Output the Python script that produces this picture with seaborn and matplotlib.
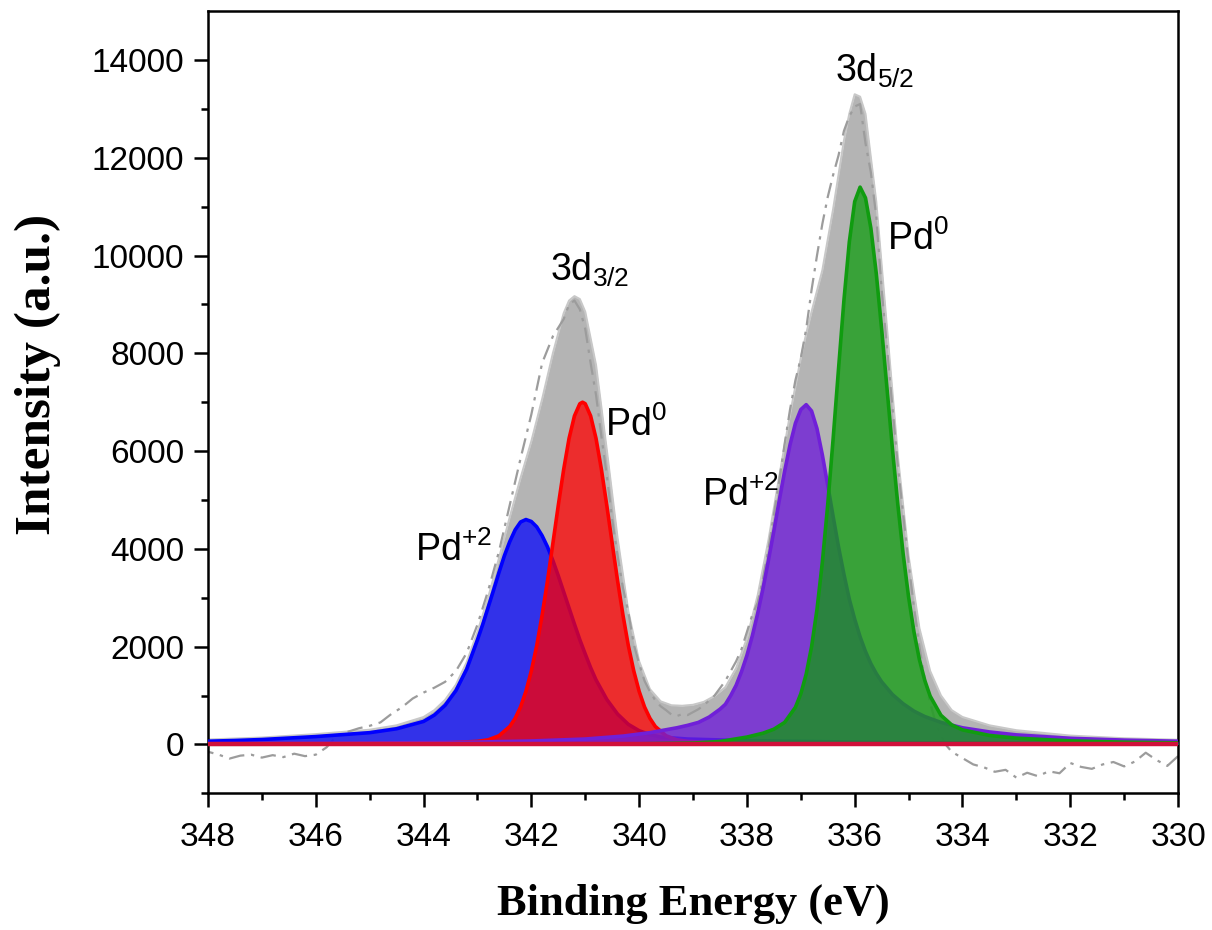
import numpy as np
import matplotlib
matplotlib.use("Agg")
import matplotlib.pyplot as plt
from matplotlib.ticker import FixedLocator
import seaborn as sns

# Pd 3d XPS spectrum (binding energy in eV, intensity in a.u.)

# raw spectrum (dash-dot)
raw_be = [348.0, 347.8, 347.6, 347.4, 347.2, 347.0, 346.8, 346.6, 346.4, 346.2, 346.0, 345.8,
          345.6, 345.4, 345.2, 345.0, 344.8, 344.6, 344.4, 344.2, 344.0,
          343.8, 343.6, 343.4, 343.2, 343.0,
          342.8, 342.6, 342.4, 342.2, 342.0, 341.8, 341.6, 341.4,
          341.3, 341.2, 341.1, 341.0, 340.9, 340.8, 340.7, 340.6, 340.5, 340.4,
          340.3, 340.2, 340.1, 340.0, 339.9, 339.8, 339.7, 339.6, 339.5, 339.4,
          339.3, 339.2, 339.1, 339.0, 338.9, 338.8, 338.7, 338.6, 338.5, 338.4,
          338.3, 338.2, 338.1, 338.0, 337.9, 337.8, 337.7, 337.6, 337.5, 337.4,
          337.3, 337.2, 337.1, 337.0, 336.9, 336.8, 336.7, 336.6, 336.5, 336.4,
          336.3, 336.2, 336.1, 336.0, 335.9, 335.8, 335.7, 335.6, 335.5, 335.4,
          335.3, 335.2, 335.1, 335.0, 334.9, 334.8, 334.7, 334.6, 334.5, 334.4,
          334.3, 334.2,
          334.0, 333.8, 333.6, 333.4, 333.2, 333.0, 332.8, 332.6, 332.4, 332.2,
          332.0, 331.8, 331.6, 331.4, 331.2, 331.0, 330.8, 330.6, 330.4, 330.2, 330.0]
raw_int = [-150, -210, -290, -230, -210, -270, -220, -260, -190, -240, -210, -60,
           190, 260, 330, 380, 450, 620, 760, 940, 1060,
           1160, 1280, 1500, 1870, 2450,
           3150, 3950, 4900, 5850, 6750, 7800, 8350, 8700,
           9000, 9080, 8900, 8500, 7800, 7150, 6300, 5500, 4600, 3850,
           3200, 2700, 2050, 1650, 1300, 1080, 900, 780, 700, 610,
           580, 620, 600, 660, 720, 800, 900, 1000, 1150, 1300,
           1500, 1700, 1950, 2300, 2650, 2900, 3400, 4000, 4700, 5400,
           6150, 6850, 7450, 7900, 8500, 9300, 10000, 10650, 11200, 11650,
           12050, 12550, 12850, 13050, 13100, 12300, 11700, 10800, 9300, 8100,
           6900, 5700, 4700, 3700, 2800, 2000, 1350, 850, 450, 180,
           -20, -150,
           -280, -410, -470, -560, -520, -680, -580, -650, -550, -590,
           -380, -460, -500, -410, -360, -450, -350, -170, -320, -440, -240]

# fitted envelope (grey)
env_be = [348.0, 347.0, 346.0, 345.0, 344.5, 344.0, 343.8, 343.6, 343.4, 343.2, 343.0,
          342.8, 342.6, 342.4, 342.2, 342.0, 341.8, 341.6, 341.4, 341.3, 341.2, 341.1, 341.0,
          340.8, 340.6, 340.4, 340.2, 340.0, 339.8, 339.6, 339.4, 339.2, 339.0,
          338.8, 338.6, 338.4, 338.2, 338.0, 337.8, 337.6, 337.4, 337.2, 337.0,
          336.9, 336.8, 336.6, 336.4, 336.2, 336.1, 336.0, 335.9, 335.8,
          335.6, 335.4, 335.2, 335.0, 334.8, 334.6, 334.4, 334.2, 334.0,
          333.5, 333.0, 332.0, 331.0, 330.0]
env_int = [100, 140, 210, 300, 390, 560, 700, 910, 1220, 1680, 2300,
           3010, 3810, 4650, 5450, 6200, 7060, 8000, 8820, 9080, 9170, 9110, 8850,
           7760, 6020, 4220, 2720, 1700, 1130, 880, 800, 790, 810,
           870, 990, 1170, 1560, 2170, 3050, 4180, 5480, 6750, 7900,
           8400, 8850, 9700, 10950, 12350, 12900, 13300, 13250, 12900,
           11100, 8500, 5900, 3850, 2380, 1500, 1000, 700, 560,
           390, 290, 180, 125, 95]

# background (baseline)
bg_be = [348.0, 330.0]
bg_int = [0, 0]

# Pd+2 3d3/2 (blue)
blue_be = [348.0, 347.5, 347.0, 346.5, 346.0, 345.5, 345.0, 344.5,
           344.0, 343.8, 343.6, 343.4, 343.2, 343.0,
           342.9, 342.8, 342.7, 342.6, 342.5, 342.4, 342.3, 342.2, 342.1,
           342.0, 341.9, 341.8, 341.7, 341.6, 341.5, 341.4, 341.3, 341.2, 341.1, 341.0,
           340.9, 340.8, 340.6, 340.4, 340.2, 340.0, 339.8, 339.6,
           339.1, 338.1, 336.1, 334.1, 330.0]
blue_int = [65, 80, 100, 130, 160, 200, 240, 320,
            470, 600, 800, 1100, 1540, 2140,
            2460, 2810, 3160, 3520, 3860, 4150, 4390, 4550, 4600,
            4560, 4450, 4270, 4040, 3760, 3450, 3120, 2790, 2460, 2140, 1850,
            1570, 1320, 920, 620, 410, 280, 200, 150,
            110, 80, 50, 30, 15]

# Pd0 3d3/2 (red)
red_be = [348.0, 346.0, 345.0, 344.0, 343.5, 343.0,
          342.8, 342.6, 342.4, 342.3, 342.2, 342.1, 342.0,
          341.9, 341.8, 341.7, 341.6, 341.5, 341.4, 341.3, 341.2, 341.1, 341.05,
          341.0, 340.9, 340.8, 340.7, 340.6, 340.5, 340.4, 340.3, 340.2, 340.1, 340.0,
          339.9, 339.8, 339.7, 339.5, 339.3, 339.1,
          338.6, 338.1, 337.1, 336.0, 334.0, 332.0, 330.0]
red_int = [8, 11, 14, 24, 35, 62,
           94, 177, 367, 534, 767, 1087, 1505,
           2020, 2645, 3350, 4115, 4890, 5625, 6260, 6720, 6970, 7000,
           6970, 6720, 6260, 5625, 4890, 4115, 3350, 2645, 2020, 1505, 1087,
           767, 534, 367, 177, 94, 62,
           35, 24, 14, 11, 8, 7, 6]

# Pd+2 3d5/2 (purple)
purple_be = [348.0, 345.0, 343.0, 342.0, 341.0, 340.3, 339.8, 339.5, 339.3, 339.1, 338.9, 338.7, 338.5,
             338.4, 338.3, 338.2, 338.1, 338.0, 337.9, 337.8, 337.7, 337.6, 337.5, 337.4, 337.3,
             337.2, 337.1, 337.0, 336.9,
             336.8, 336.7, 336.6, 336.5, 336.4, 336.3, 336.2, 336.1, 336.0, 335.9, 335.8, 335.7,
             335.6, 335.5,
             335.3, 335.1, 334.9, 334.7, 334.4, 334.0, 333.5, 333.0, 332.0, 331.0, 330.0]
purple_int = [14, 27, 48, 70, 110, 170, 240, 300, 340, 390, 450, 560, 720,
              820, 1000, 1210, 1490, 1820, 2220, 2680, 3200, 3770, 4370, 4990, 5590,
              6130, 6570, 6850, 6950,
              6820, 6460, 5920, 5300, 4660, 4040, 3480, 2970, 2560, 2200, 1900, 1650,
              1450, 1280,
              1020, 830, 680, 570, 450, 340, 255, 195, 125, 88, 65]

# Pd0 3d5/2 (green)
green_be = [348.0, 342.0, 340.0, 339.0, 338.5, 338.0, 337.7, 337.5, 337.3, 337.1,
            337.0, 336.9, 336.8, 336.7, 336.6, 336.5, 336.4, 336.3, 336.2, 336.1, 336.0, 335.9,
            335.8, 335.7, 335.6, 335.5, 335.4, 335.3, 335.2, 335.1, 335.0, 334.9, 334.8, 334.7, 334.6,
            334.4, 334.2, 334.0, 333.5, 333.0, 332.0, 331.0, 330.0]
green_int = [3, 6, 12, 28, 60, 150, 230, 311, 450, 759,
             1035, 1438, 2001, 2759, 3731, 4910, 6255, 7685, 9083, 10280, 11105, 11400,
             11180, 10560, 9635, 8495, 7275, 6050, 4910, 3887, 3015, 2300, 1737, 1309, 988,
             596, 399, 297, 184, 128, 73, 46, 32]

labels = ["3d$_{3/2}$", "Pd$^{0}$", "Pd$^{+2}$", "Pd$^{+2}$", "3d$_{5/2}$", "Pd$^{0}$"]
label_be = [341.65, 340.63, 344.16, 338.83, 336.37, 335.40]
label_int = [9480, 6300, 3745, 4870, 13549, 10110]

sns.set_theme(style="ticks")
plt.rcParams['font.family'] = ['Liberation Sans', 'DejaVu Sans']
plt.rcParams['mathtext.fontset'] = 'custom'
plt.rcParams['mathtext.rm'] = 'Liberation Sans'
plt.rcParams['mathtext.it'] = 'Liberation Sans:italic'
plt.rcParams['mathtext.bf'] = 'Liberation Sans:bold'
plt.rcParams['mathtext.default'] = 'regular'
plt.rcParams['axes.labelcolor'] = 'black'
plt.rcParams['text.color'] = 'black'

fig, ax = plt.subplots(figsize=(12.12, 9.30), dpi=100)
fig.subplots_adjust(left=0.1716, right=0.972, top=0.988, bottom=0.147)

# envelope + raw data
ax.fill_between(env_be, env_int, 0, color='#b4b4b4', lw=0, zorder=1)
sns.lineplot(x=env_be, y=env_int, color='#c8c8c8', lw=1.5, ax=ax, zorder=1.5)
sns.lineplot(x=raw_be, y=raw_int, color='#9c9c9c', lw=1.6, ax=ax, zorder=2)
ax.lines[-1].set_dashes([7, 3, 1.5, 3])

# fitted components
peaks = [
    (blue_be, blue_int, '#0000ff', 0.72),
    (red_be, red_int, '#ff0000', 0.75),
    (purple_be, purple_int, '#7020d8', 0.8),
    (green_be, green_int, '#109c10', 0.75),
]
for i, (be, inten, col, a) in enumerate(peaks):
    z = 3 + i
    ax.fill_between(be, inten, 0, color=col, alpha=a, lw=0, zorder=z)
    sns.lineplot(x=be, y=inten, color=col, lw=2.6, ax=ax, zorder=z + 0.5)

# crimson background line along zero
sns.lineplot(x=bg_be, y=bg_int, color='#d0103a', lw=3.2, ax=ax, zorder=8)

for txt, xb, yi in zip(labels, label_be, label_int):
    ax.text(xb, yi, txt, fontsize=27, color='black', ha='left', va='baseline', zorder=10)

ax.set_xlim(348, 330)
ax.set_ylim(-1000, 15000)
ax.set_xticks(np.arange(330, 349, 2))
ax.xaxis.set_minor_locator(FixedLocator(np.arange(331, 348, 2)))
ax.set_yticks(np.arange(0, 14001, 2000))
ax.yaxis.set_minor_locator(FixedLocator(np.arange(-1000, 14000, 2000)))

ax.tick_params(which='both', direction='out', width=1.8, colors='black',
               top=False, right=False, labelsize=24)
ax.tick_params(which='major', length=10)
ax.tick_params(which='minor', length=5)
ax.tick_params(axis='x', pad=11)
ax.tick_params(axis='y', pad=7)
for s in ax.spines.values():
    s.set_linewidth(1.8)
    s.set_color('black')

ax.set_xlabel('Binding Energy (eV)', fontsize=32, fontweight='bold',
              family='Liberation Serif', color='black', labelpad=22)
ax.set_ylabel('Intensity (a.u.)', fontsize=37, fontweight='bold',
              family='Liberation Serif', color='black')
ax.yaxis.set_label_coords(-0.152, 0.535)

fig.savefig('out.png', dpi=100)
